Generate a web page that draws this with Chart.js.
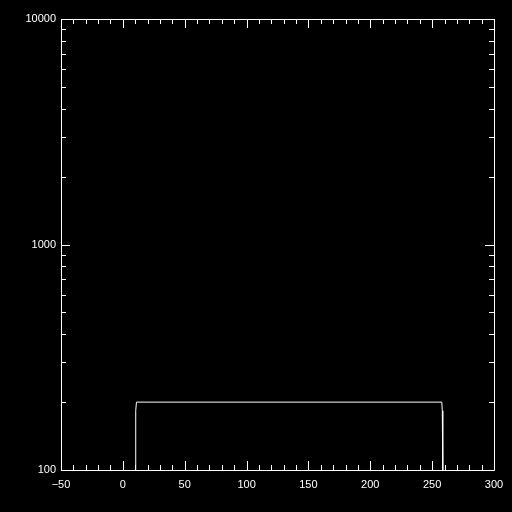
<!DOCTYPE html>
<html>
<head>
<meta charset="utf-8">
<script src="https://cdn.jsdelivr.net/npm/chart.js@4"></script>
<style>
html, body { margin: 0; padding: 0; background: #000; }
#wrap { width: 512px; height: 512px; }
</style>
</head>
<body>
<div id="wrap"><canvas id="chart" width="512" height="512"></canvas></div>
<script>
// Data
const xValues = [10, 10.4, 11, 257.8, 258.2, 258.6];
const yValues = [100, 183, 200, 200, 183, 100];
const xTicks = [-50, 0, 50, 100, 150, 200, 250, 300];
const yTicks = [100, 1000, 10000];

const points = xValues.map((x, i) => ({ x: x, y: yValues[i] }));

// Draws the IDL style frame with inward ticks
const framePlugin = {
    id: "frame",
    afterDraw(chart) {
        const ctx = chart.ctx;
        const a = chart.chartArea;
        const xs = chart.scales.x;
        const ys = chart.scales.y;
        ctx.save();
        ctx.strokeStyle = "#fff";
        ctx.lineWidth = 1;
        ctx.beginPath();
        ctx.rect(a.left + 0.5, a.top + 0.5, a.right - a.left, a.bottom - a.top);

        for (let v = -50; v <= 300; v += 10) {
            const px = Math.round(xs.getPixelForValue(v)) + 0.5;
            const len = xTicks.includes(v) ? 9 : 5;
            ctx.moveTo(px, a.bottom);
            ctx.lineTo(px, a.bottom - len);
            ctx.moveTo(px, a.top);
            ctx.lineTo(px, a.top + len);
        }

        for (let d = 100; d <= 10000; d *= 10) {
            for (let m = 1; m <= 9; m++) {
                const v = d * m;
                if (v > 10000) break;
                const py = Math.round(ys.getPixelForValue(v)) + 0.5;
                const len = m === 1 ? 9 : 5;
                ctx.moveTo(a.left, py);
                ctx.lineTo(a.left + len, py);
                ctx.moveTo(a.right, py);
                ctx.lineTo(a.right - len, py);
            }
        }
        ctx.stroke();
        ctx.restore();
    }
};

const bgPlugin = {
    id: "bg",
    beforeDraw(chart) {
        const ctx = chart.ctx;
        ctx.save();
        ctx.fillStyle = "#000";
        ctx.fillRect(0, 0, chart.width, chart.height);
        ctx.restore();
    }
};

const font = { family: "'Liberation Sans', Arial, sans-serif", size: 11 };

new Chart(document.getElementById("chart").getContext("2d"), {
    type: "line",
    data: {
        datasets: [{
            data: points,
            borderColor: "#fff",
            borderWidth: 1,
            pointRadius: 0,
            tension: 0,
            fill: false
        }]
    },
    options: {
        responsive: false,
        animation: false,
        layout: { padding: { top: 19, right: 18, left: 0, bottom: 0 } },
        plugins: { legend: { display: false }, tooltip: { enabled: false } },
        scales: {
            x: {
                type: "linear",
                min: -50,
                max: 300,
                border: { display: false },
                grid: { display: false, drawTicks: false },
                afterFit: s => { s.height = 42; },
                afterBuildTicks: s => { s.ticks = xTicks.map(v => ({ value: v })); },
                ticks: {
                    color: "#fff",
                    font: font,
                    padding: 8,
                    autoSkip: false,
                    maxRotation: 0,
                    callback: v => String(v).replace("-", "\u2212")
                }
            },
            y: {
                type: "logarithmic",
                min: 100,
                max: 10000,
                border: { display: false },
                grid: { display: false, drawTicks: false },
                afterFit: s => { s.width = 61; },
                afterBuildTicks: s => { s.ticks = yTicks.map(v => ({ value: v })); },
                ticks: {
                    color: "#fff",
                    font: font,
                    padding: 5,
                    autoSkip: false,
                    callback: v => String(v)
                }
            }
        }
    },
    plugins: [bgPlugin, framePlugin]
});
</script>
</body>
</html>
